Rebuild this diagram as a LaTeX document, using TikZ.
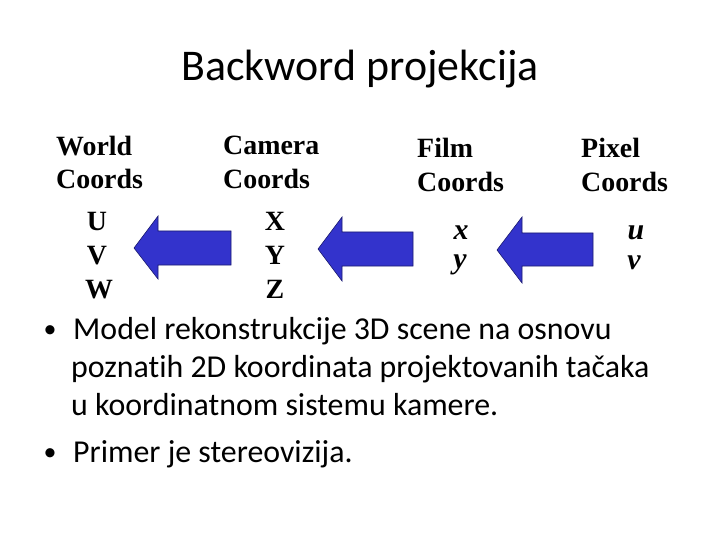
\documentclass[tikz,border=0pt]{standalone}
\usepackage{fontspec}
\setmainfont[Ligatures={NoCommon}]{Carlito}
\newfontfamily\timesfont{Liberation Serif}
\begin{document}
\begin{tikzpicture}[x=1bp,y=-1bp,
  lbl/.style={font=\timesfont\bfseries\fontsize{28}{30}\selectfont, anchor=base west, inner sep=0pt},
  var/.style={font=\timesfont\bfseries\fontsize{28}{30}\selectfont, anchor=base, inner sep=0pt},
  ivar/.style={font=\timesfont\bfseries\itshape\fontsize{30}{32}\selectfont, anchor=base, inner sep=0pt},
  body/.style={font=\fontsize{32}{38}\selectfont, anchor=base west, inner sep=0pt},
  bul/.style={font=\fontsize{26}{30}\selectfont, anchor=base, inner sep=0pt},
  bigarrow/.style={fill=arrowblue, draw=arrowedge, line width=0.6bp}]
\definecolor{arrowblue}{HTML}{3333CC}
\definecolor{arrowedge}{HTML}{1A1A70}
\useasboundingbox[fill=white] (0,0) rectangle (720,540);
% title
\node[font=\fontsize{44}{50}\selectfont, anchor=base, inner sep=0pt] (title) at (360,81) {Backword projekcija};
% column headings
\node[lbl] (w1) at (56,156) {World};
\node[lbl] (w2) at (56,189) {Coords};
\node[lbl] (c1) at (223,155) {Camera};
\node[lbl] (c2) at (223,189) {Coords};
\node[lbl] (f1) at (417,158) {Film};
\node[lbl] (f2) at (417,192) {Coords};
\node[lbl] (p1) at (581,158) {Pixel};
\node[lbl] (p2) at (581,192) {Coords};
% variables
\node[var] (U) at (97,231) {U};
\node[var] (V) at (97,265) {V};
\node[var] (W) at (99,298) {W};
\node[var] (X) at (275,231) {X};
\node[var] (Y) at (275,265) {Y};
\node[var] (Z) at (275,298) {Z};
\node[ivar] (x) at (461,240) {x};
\node[ivar] (y) at (460,269) {y};
\node[ivar] (u) at (636,240) {u};
\node[ivar] (v) at (634,270) {v};
% arrows
\draw[bigarrow] (231,231) -- (158,231) -- (158,216) -- (134,248) -- (158,279) -- (158,265) -- (231,265) -- cycle;
\draw[bigarrow] (413,232) -- (342,232) -- (342,217) -- (318,249) -- (342,281) -- (342,266) -- (413,266) -- cycle;
\draw[bigarrow] (593,233) -- (522,233) -- (522,217) -- (497,250) -- (522,283) -- (522,266) -- (593,266) -- cycle;
% bullets
\node[bul] (b1) at (50,337) {\textbullet};
\node[body] (t1) at (73,339) {Model rekonstrukcije 3D scene na osnovu};
\node[body] (t2) at (71,377) {poznatih 2D koordinata projektovanih tačaka};
\node[body] (t3) at (71,415) {u koordinatnom sistemu kamere.};
\node[bul] (b2) at (50,460) {\textbullet};
\node[body] (t4) at (73,462) {Primer je stereovizija.};
\end{tikzpicture}
\end{document}
